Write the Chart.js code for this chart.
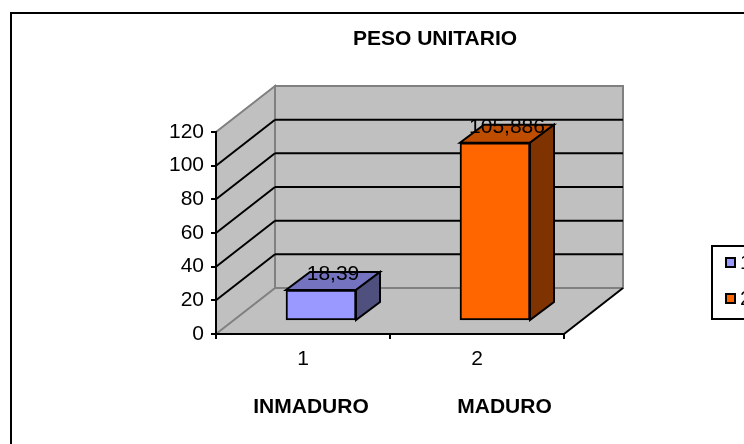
<!DOCTYPE html>
<html>
<head>
<meta charset="utf-8">
<script src="https://cdn.jsdelivr.net/npm/chart.js@4"></script>
<style>
    html, body { margin: 0; padding: 0; background: #fff; overflow: hidden; width: 744px; height: 444px; }
    canvas { display: block; }
</style>
</head>
<body>
<div style="width:870px;height:444px"><canvas id="charPeso"></canvas></div>
<script>
const chartTitle = 'PESO UNITARIO';
const categories = ['1', '2'];
const pesoValues = [18.39, 105.886];
const groupNames = ['INMADURO', 'MADURO'];
const legendNames = ['1', '2'];
const frontColors = ['#9999FF', '#FF6600'];
const topColors = ['#7373BF', '#BF4D00'];
const sideColors = ['#50507F', '#7F3300'];

const FONT = '"Liberation Sans", Arial, sans-serif';
// offset of the back wall and of the bars, seen from the front plane
const WALL = { dx: 59, dy: -46 };
const BAR_SHIFT = { dx: 18, dy: -13 };
const BAR_DEPTH = { dx: 24, dy: -18 };

function poly(ctx, pts, fill, stroke, width) {
    ctx.beginPath();
    pts.forEach((p, i) => i ? ctx.lineTo(p[0], p[1]) : ctx.moveTo(p[0], p[1]));
    ctx.closePath();
    if (fill) {
        ctx.fillStyle = fill;
        ctx.fill();
    }
    if (stroke) {
        ctx.strokeStyle = stroke;
        ctx.lineWidth = width;
        ctx.stroke();
    }
}

function line(ctx, x1, y1, x2, y2, color, width) {
    ctx.beginPath();
    ctx.moveTo(x1, y1);
    ctx.lineTo(x2, y2);
    ctx.strokeStyle = color;
    ctx.lineWidth = width;
    ctx.stroke();
}

const room3d = {
    id: 'room3d',
    beforeDraw(chart) {
        const { ctx, chartArea: a, scales } = chart;
        const bx = WALL.dx, by = WALL.dy;
        ctx.save();
        // outer frame, runs off the page on the right and at the bottom
        ctx.strokeStyle = '#000';
        ctx.lineWidth = 2;
        ctx.strokeRect(11, 13, 900, 500);
        // floor
        poly(ctx, [[a.left, a.bottom], [a.right, a.bottom], [a.right + bx, a.bottom + by], [a.left + bx, a.bottom + by]], '#C0C0C0');
        // side wall and back wall
        poly(ctx, [[a.left, a.bottom], [a.left, a.top], [a.left + bx, a.top + by], [a.left + bx, a.bottom + by]], '#C0C0C0', '#808080', 2);
        poly(ctx, [[a.left + bx, a.top + by], [a.right + bx, a.top + by], [a.right + bx, a.bottom + by], [a.left + bx, a.bottom + by]], '#C0C0C0', '#808080', 2);
        // grid lines from the y scale
        scales.y.ticks.forEach((t) => {
            if (t.value === 0 || t.value === scales.y.max) return;
            const y = scales.y.getPixelForValue(t.value);
            line(ctx, a.left, y, a.left + bx, y + by, '#000', 2);
            line(ctx, a.left + bx, y + by, a.right + bx, y + by, '#000', 2);
        });
        line(ctx, a.right, a.bottom, a.right + bx, a.bottom + by, '#000', 2);
        ctx.restore();
    },
    beforeDatasetDraw(chart) {
        const { ctx } = chart;
        ctx.save();
        ctx.translate(BAR_SHIFT.dx, BAR_SHIFT.dy);
        chart.getDatasetMeta(0).data.forEach((bar, i) => {
            const l = bar.x - bar.width / 2, r = bar.x + bar.width / 2;
            const d = BAR_DEPTH;
            poly(ctx, [[l, bar.y], [r, bar.y], [r + d.dx, bar.y + d.dy], [l + d.dx, bar.y + d.dy]], topColors[i], '#000', 2);
            poly(ctx, [[r, bar.y], [r + d.dx, bar.y + d.dy], [r + d.dx, bar.base + d.dy], [r, bar.base]], sideColors[i], '#000', 2);
        });
    },
    afterDatasetDraw(chart) {
        chart.ctx.restore();
    },
    afterDatasetsDraw(chart) {
        const { ctx, scales } = chart;
        ctx.save();
        ctx.fillStyle = '#000';
        ctx.textAlign = 'center';
        ctx.textBaseline = 'middle';
        // value labels
        ctx.font = '21px ' + FONT;
        chart.getDatasetMeta(0).data.forEach((bar, i) => {
            const txt = String(pesoValues[i]).replace('.', ',');
            ctx.fillText(txt, bar.x + BAR_SHIFT.dx + 12, bar.y + BAR_SHIFT.dy - 16);
        });
        // title and group names, placed by hand in the original too
        ctx.font = 'bold 21px ' + FONT;
        ctx.fillText(chartTitle, 435, 39);
        groupNames.forEach((name, i) => {
            const off = i === 0 ? 8 : 27.5;
            ctx.fillText(name, scales.x.getPixelForValue(i) + off, 407);
        });
        // legend box, cut by the page edge like the original
        ctx.fillStyle = '#fff';
        ctx.strokeStyle = '#000';
        ctx.lineWidth = 2;
        ctx.fillRect(712, 246, 90, 73);
        ctx.strokeRect(712, 246, 90, 73);
        ctx.textAlign = 'left';
        ctx.font = '21px ' + FONT;
        legendNames.forEach((name, i) => {
            const y = 262.5 + i * 36;
            ctx.fillStyle = frontColors[i];
            ctx.fillRect(726, y - 4.5, 9, 9);
            ctx.strokeRect(726, y - 4.5, 9, 9);
            ctx.fillStyle = '#000';
            ctx.fillText(name, 740, y + 1);
        });
        ctx.restore();
    }
};

new Chart(document.getElementById('charPeso'), {
    type: 'bar',
    data: {
        labels: categories,
        datasets: [{
            data: pesoValues,
            backgroundColor: frontColors,
            borderColor: '#000',
            borderWidth: 2,
            borderSkipped: false,
            barThickness: 70
        }]
    },
    options: {
        responsive: true,
        maintainAspectRatio: false,
        animation: false,
        layout: { padding: { left: 166, right: 306, top: 132, bottom: 70 } },
        plugins: {
            legend: { display: false },
            title: { display: false },
            tooltip: { enabled: false }
        },
        scales: {
            x: {
                afterFit: (scale) => { scale.height = 40; },
                border: { color: '#000', width: 2 },
                grid: { offset: true, drawOnChartArea: false, color: '#000', lineWidth: 2, tickLength: 5 },
                ticks: { color: '#000', font: { family: FONT, size: 21 }, padding: 8 }
            },
            y: {
                min: 0,
                max: 120,
                afterFit: (scale) => { scale.width = 50; },
                border: { color: '#000', width: 2 },
                grid: { drawOnChartArea: false, color: '#000', lineWidth: 2, tickLength: 5 },
                ticks: { stepSize: 20, color: '#000', font: { family: FONT, size: 21 }, padding: 7 }
            }
        }
    },
    plugins: [room3d]
});
</script>
</body>
</html>
